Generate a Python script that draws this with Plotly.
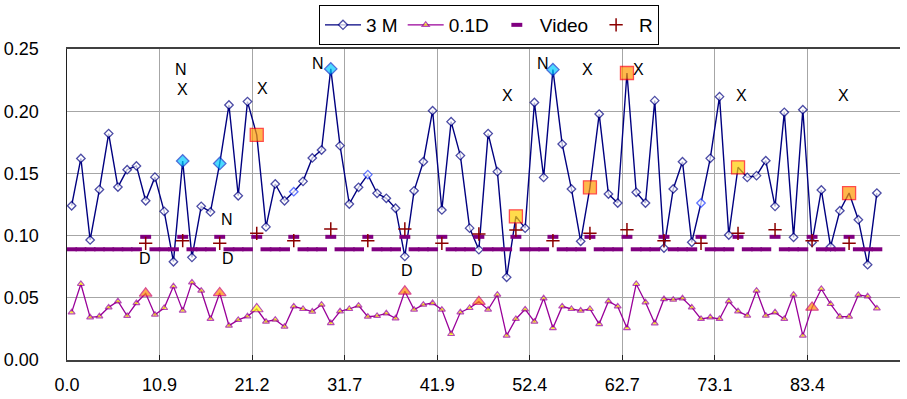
import plotly.graph_objects as go

# ---------------- data ----------------
x_idx = list(range(88))

tick_pos = [-0.5, 9.5, 19.5, 29.5, 39.5, 49.5, 59.5, 69.5, 79.5, 89.5]
tick_text = ["0.0", "10.9", "21.2", "31.7", "41.9", "52.4", "62.7", "73.1", "83.4", ""]

m3 = [0.124, 0.162, 0.0965, 0.137, 0.182, 0.139, 0.153, 0.156, 0.128, 0.147,
      0.1195, 0.079, 0.160, 0.0825, 0.1235, 0.119, 0.158, 0.205, 0.132, 0.2077,
      0.181, 0.107, 0.1415, 0.128, 0.1353, 0.1436, 0.1624, 0.1688, 0.234, 0.1723,
      0.1254, 0.1388, 0.149, 0.134, 0.130, 0.122, 0.0833, 0.136, 0.1594, 0.2004,
      0.1206, 0.1916, 0.1643, 0.106, 0.0887, 0.182, 0.1514, 0.0665, 0.1155, 0.106,
      0.207, 0.1468, 0.2334, 0.1736, 0.1375, 0.0954, 0.1388, 0.1977, 0.1334, 0.1262,
      0.2307, 0.1348, 0.1262, 0.2085, 0.090, 0.1375, 0.1594, 0.0946, 0.1262, 0.1621,
      0.2117, 0.1005, 0.1549, 0.1468, 0.1482, 0.1602, 0.1235, 0.1991, 0.0986, 0.2012,
      0.0946, 0.1367, 0.0911, 0.120, 0.1342, 0.1128, 0.0766, 0.1342]

d01 = [0.0383, 0.0611, 0.0343, 0.0351, 0.0423, 0.0472, 0.0354, 0.0458, 0.0536, 0.0364,
       0.0418, 0.0592, 0.0397, 0.0624, 0.0557, 0.033, 0.0539, 0.0276, 0.0322, 0.0351,
       0.041, 0.0308, 0.0324, 0.0268, 0.0431, 0.041, 0.0389, 0.0445, 0.0297, 0.0391,
       0.041, 0.0437, 0.0348, 0.0354, 0.0375, 0.0335, 0.0552, 0.0405, 0.0445, 0.0458,
       0.0405, 0.0209, 0.0383, 0.0418, 0.0469, 0.0405, 0.0525, 0.0196, 0.033, 0.0407,
       0.0308, 0.0496, 0.0257, 0.0431, 0.041, 0.0397, 0.041, 0.0289, 0.0472, 0.0431,
       0.0257, 0.0611, 0.0464, 0.0295, 0.049, 0.0485, 0.0496, 0.0423, 0.033, 0.0343,
       0.033, 0.0472, 0.0391, 0.0356, 0.0557, 0.0356, 0.0383, 0.033, 0.0525, 0.0196,
       0.0423, 0.0571, 0.045, 0.0348, 0.0348, 0.0523, 0.0512, 0.0415]

video = [0.089, 0.089, 0.089, 0.089, 0.089, 0.089, 0.089, 0.089, 0.099, 0.089,
         0.089, 0.089, 0.099, 0.089, 0.089, 0.089, 0.099, 0.089, 0.089, 0.089,
         0.099, 0.089, 0.089, 0.089, 0.099, 0.089, 0.089, 0.089, 0.099, 0.089,
         0.089, 0.089, 0.099, 0.089, 0.089, 0.089, 0.099, 0.089, 0.089, 0.089,
         0.099, 0.089, 0.089, 0.089, 0.099, 0.089, 0.089, 0.089, 0.099, 0.089,
         0.089, 0.089, 0.099, 0.089, 0.089, 0.089, 0.099, 0.089, 0.089, 0.089,
         0.099, 0.089, 0.089, 0.089, 0.099, 0.089, 0.089, 0.089, 0.099, 0.089,
         0.089, 0.089, 0.099, 0.089, 0.089, 0.089, 0.099, 0.089, 0.089, 0.089,
         0.099, 0.089, 0.089, 0.089, 0.099, 0.089, 0.089, 0.089]

r_idx = [8, 12, 16, 20, 24, 28, 32, 36, 40, 44, 48, 52, 56, 60, 64, 68, 72, 76, 80, 84]
r_val = [0.0938, 0.0959, 0.0938, 0.1018, 0.0959, 0.1053, 0.0959, 0.1053, 0.0938, 0.1013,
         0.1045, 0.0959, 0.1018, 0.1048, 0.0959, 0.0938, 0.1018, 0.1048, 0.0959, 0.0938]

# highlighted points
m3_cyan = [12, 16, 28, 52]
m3_orange = [20, 56, 60, 84]
m3_yellow = [48, 72]
m3_light = [24, 32, 68]
d_orange = [8, 16, 36, 44, 80]
d_yellow = [20]

# text labels
lab_text = ["N", "X", "X", "N", "D", "D", "N", "D", "X", "N", "X", "X", "D", "X", "X"]
lab_x = [11.81, 11.95, 20.67, 16.78, 7.96, 16.92, 26.64, 36.2, 47.12, 50.9, 55.76, 61.2, 43.78, 72.4, 83.35]
lab_y = [0.2339, 0.2178, 0.2186, 0.1133, 0.0812, 0.0812, 0.2387, 0.0723, 0.2130, 0.2387,
         0.2339, 0.2339, 0.0723, 0.2130, 0.2130]

# ---------------- styles ----------------
NAVY = "#000080"
PURPLE = "#990099"
VIDEO_C = "#800080"
RED_C = "#8B0000"
FONT = "Liberation Sans"

m3_sym, m3_size, m3_fill, m3_line = [], [], [], []
for i in x_idx:
    if i in m3_orange or i in m3_yellow:
        m3_sym.append("square")
        m3_size.append(13)
        m3_fill.append("#FF9900" if i in m3_orange else "#FFCC00")
        m3_line.append("#FF0000")
    elif i in m3_cyan:
        m3_sym.append("diamond")
        m3_size.append(9.5)
        m3_fill.append("#00CCFF")
        m3_line.append("#0033CC")
    else:
        m3_sym.append("diamond")
        m3_size.append(6.5)
        m3_fill.append("white")
        m3_line.append("#1E3CFF" if i in m3_light else NAVY)

d_size, d_fill, d_line = [], [], []
for i in x_idx:
    if i in d_orange:
        d_size.append(11)
        d_fill.append("#FF8800")
        d_line.append("#CC0066")
    elif i in d_yellow:
        d_size.append(11)
        d_fill.append("#FFFF00")
        d_line.append(PURPLE)
    else:
        d_size.append(6)
        d_fill.append("#FFFF00")
        d_line.append(PURPLE)

fig = go.Figure()

fig.add_trace(go.Scatter(
    x=x_idx, y=m3, name="3 M", mode="lines+markers",
    line=dict(color=NAVY, width=1.4),
    marker=dict(symbol=m3_sym, size=m3_size, color=m3_fill,
                line=dict(color=m3_line, width=1.3)),
))

fig.add_trace(go.Scatter(
    x=x_idx, y=d01, name="0.1D", mode="lines+markers",
    line=dict(color=PURPLE, width=1.3),
    marker=dict(symbol="triangle-up", size=d_size, color=d_fill,
                line=dict(color=d_line, width=1.2)),
))

fig.add_trace(go.Scatter(
    x=x_idx, y=video, name="Video", mode="markers",
    marker=dict(symbol="line-ew", size=7.8, color=VIDEO_C,
                line=dict(color=VIDEO_C, width=4)),
))

fig.add_trace(go.Scatter(
    x=r_idx, y=r_val, name="R", mode="markers",
    marker=dict(symbol="cross-thin", size=9.5, color=RED_C,
                line=dict(color=RED_C, width=1.5)),
))

for t, xx, yy in zip(lab_text, lab_x, lab_y):
    fig.add_annotation(x=xx, y=yy, text=t, showarrow=False,
                       font=dict(family=FONT, size=16, color="black"),
                       xanchor="center", yanchor="middle")

# plot area: left 67, right 900, top 49, bottom 360 (pixels)
fig.update_layout(
    width=907, height=399, autosize=False,
    margin=dict(l=67, r=7, t=4, b=39, autoexpand=False),
    paper_bgcolor="white", plot_bgcolor="white",
    font=dict(family=FONT, size=18, color="black"),
    showlegend=True,
    legend=dict(orientation="h", x=0.5066, xanchor="center", y=0.9972, yanchor="top",
                bordercolor="black", borderwidth=1, bgcolor="white",
                itemwidth=36,
                font=dict(family=FONT, size=19, color="black")),
)

fig.update_xaxes(
    range=[-0.5, 89.5], tickmode="array", tickvals=tick_pos, ticktext=tick_text,
    showgrid=True, gridcolor="#A6A6A6", gridwidth=1,
    showline=True, linecolor="#404040", linewidth=1.5, mirror=True,
    ticks="inside", ticklen=5, tickcolor="#202020", zeroline=False,
    tickfont=dict(family=FONT, size=18, color="black"),
    ticklabelstandoff=8, automargin=False,
)

fig.update_yaxes(
    range=[0, 0.25], dtick=0.05, tick0=0, tickformat=".2f",
    domain=[0, 0.8736],
    showgrid=True, gridcolor="#A6A6A6", gridwidth=1,
    showline=True, linecolor="#202020", linewidth=1.5, mirror=False,
    ticks="", zeroline=False,
    tickfont=dict(family=FONT, size=18, color="black"),
    ticklabelstandoff=23, automargin=False,
)

fig.write_html("out.html",
               config={"displayModeBar": False, "staticPlot": True},
               post_script="document.body.style.margin='0';document.body.style.overflow='hidden';")
